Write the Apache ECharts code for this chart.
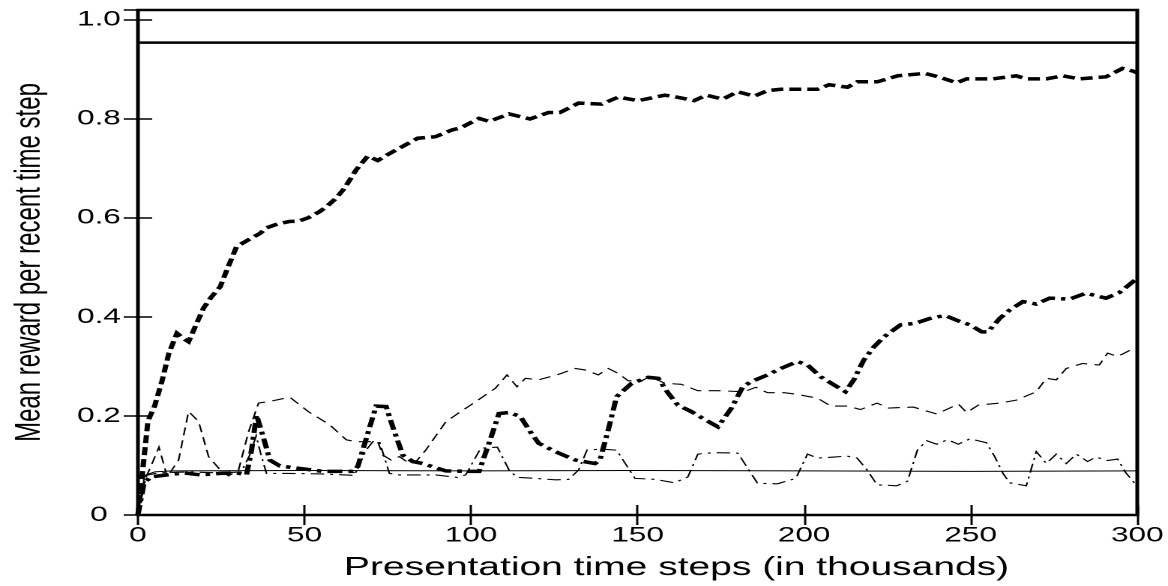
<!DOCTYPE html>
<html><head><meta charset="utf-8">
<script src="https://cdn.jsdelivr.net/npm/echarts@6/dist/echarts.min.js"></script>
<style>
html,body{margin:0;padding:0;background:#fff;overflow:hidden}
#wrap{width:1168px;height:586px;overflow:hidden}
#c{width:779px;height:586px;transform:scaleX(1.49936);transform-origin:0 0}
</style>
</head><body><div id="wrap"><div id="c"></div></div>
<script>
// ---- data (x in thousands of presentation time steps) ----
const xTickValues = [0, 50, 100, 150, 200, 250, 300];
const yTickValues = [0, 0.2, 0.4, 0.6, 0.8, 1.0];
const yTickLabels = ['0', '0.2', '0.4', '0.6', '0.8', '1.0'];

const refLevel = 0.954;   // horizontal reference line
const xRef = [0, 300];

// thick dashed
const xA = [0,3,5,7.2,9.3,11.7,14,15.2,17.5,19.7,22,24.7,27,29.6,33.2,36.7,38.6,42,45.6,48,51,54.6,57,59.5,62,65.5,69,72,75,78.5,81,84,89.3,94.4,96.9,102.4,105.4,111.4,117.7,123.3,126.7,132.3,139.2,144.2,150.2,158.2,161,167,170.6,175.6,180,185,189,193,198,204,207.5,213,216,222,228,236.3,240.8,245.8,248.8,256.7,263.7,266.7,272.7,277.7,282.6,290.6,295.6,299,300];
const yA = [0,0.19,0.22,0.27,0.327,0.367,0.355,0.35,0.385,0.418,0.44,0.461,0.5,0.542,0.556,0.569,0.58,0.588,0.593,0.593,0.6,0.613,0.625,0.64,0.66,0.697,0.725,0.716,0.728,0.741,0.75,0.761,0.764,0.778,0.782,0.801,0.795,0.81,0.8,0.813,0.813,0.832,0.83,0.844,0.837,0.848,0.845,0.837,0.848,0.84,0.855,0.846,0.857,0.86,0.86,0.86,0.869,0.864,0.875,0.875,0.887,0.892,0.884,0.873,0.881,0.881,0.887,0.881,0.881,0.887,0.881,0.885,0.902,0.896,0.893];

// thick dash-dot
const xC = [0,1.8,3.8,8.8,13.7,18.7,24.7,29.7,32.6,34.1,35.6,37.6,39.6,42.6,48.6,55.6,64.5,66,71.5,74.5,76.5,79.5,82.5,85.5,92.4,99.4,102.4,105.4,108.4,111.4,114.8,117.8,120.3,125.3,131.3,137.2,138.7,141.2,143.7,148.2,153.2,156.2,159.2,162.1,166.1,169.1,174.1,178.1,181.6,184,189,193,198,201,205,208.9,212.4,214.9,217.9,221,224,228.9,233.3,237.8,242.3,246.3,249.8,253.3,255.2,258.7,261.7,265.7,269.7,273.7,279.7,284.6,290.6,294.6,299.6,300];
const yC = [0,0.064,0.077,0.081,0.085,0.081,0.084,0.085,0.081,0.131,0.202,0.158,0.111,0.099,0.094,0.088,0.088,0.098,0.22,0.219,0.178,0.121,0.108,0.104,0.089,0.088,0.088,0.145,0.205,0.207,0.199,0.168,0.145,0.128,0.111,0.104,0.111,0.172,0.239,0.266,0.278,0.276,0.246,0.222,0.209,0.197,0.178,0.215,0.259,0.269,0.283,0.296,0.31,0.303,0.279,0.263,0.249,0.273,0.313,0.34,0.36,0.384,0.387,0.397,0.403,0.392,0.384,0.37,0.37,0.397,0.414,0.431,0.426,0.438,0.436,0.448,0.438,0.449,0.476,0.478];

// thin dashed
const xD = [0,2,4,6.3,8.8,12.2,15.2,18.2,21.2,24.7,27.2,30.2,33.2,36.2,40,45.6,51.1,57.6,62.5,65.5,72,73.5,76,78.5,81.5,83.5,86.4,92.4,95.4,101.4,107.3,110.8,113.8,116.3,120.3,125.8,131.3,134.2,138.2,141.2,144.2,147.2,151.2,153.7,158.2,163.1,168.1,174,182,185.5,189,194,197.5,204,208,213,216.9,221.9,225.4,232.8,239.8,246.3,248.8,252.3,258.7,263.7,269.7,272.7,275.7,278.7,283.6,288.6,291.1,294.1,297.6,300];
const yD = [0,0.07,0.1,0.137,0.077,0.111,0.209,0.189,0.118,0.091,0.079,0.091,0.168,0.226,0.23,0.238,0.209,0.182,0.152,0.148,0.148,0.121,0.111,0.118,0.104,0.108,0.131,0.188,0.202,0.229,0.256,0.283,0.259,0.276,0.273,0.283,0.296,0.293,0.283,0.296,0.286,0.271,0.271,0.28,0.266,0.264,0.251,0.251,0.249,0.258,0.247,0.247,0.244,0.236,0.22,0.22,0.213,0.226,0.216,0.218,0.204,0.224,0.207,0.222,0.226,0.232,0.249,0.276,0.273,0.296,0.306,0.303,0.327,0.32,0.332,0.325];

// thin dash-dot
const xE = [0,2.5,6,15,25,31,33.5,35.5,37,38.6,45,55,65,68.5,70.5,72.5,75.5,78.5,89.4,95.9,98.4,102.9,107.9,111.4,113.8,119.3,125.3,129.3,132.3,134.8,139.2,143.7,149.2,155.2,161.1,165.1,168.1,173.1,180.1,186,192,197.5,201,204,208.9,212.9,215.9,218.9,221.9,227.8,231,234,236.8,239.8,243,246.3,249.8,254.7,257.2,259.7,261.7,266.7,269.7,272.7,275.7,278.7,281.7,285.1,287.6,291.1,294.1,296.6,299.6,300];
const yE = [0,0.08,0.085,0.087,0.085,0.087,0.12,0.16,0.12,0.084,0.084,0.083,0.08,0.131,0.148,0.148,0.084,0.081,0.081,0.076,0.081,0.135,0.137,0.091,0.076,0.074,0.071,0.072,0.091,0.131,0.133,0.131,0.074,0.072,0.065,0.077,0.123,0.126,0.125,0.064,0.063,0.074,0.123,0.115,0.117,0.119,0.115,0.091,0.061,0.059,0.068,0.131,0.15,0.143,0.152,0.143,0.154,0.146,0.118,0.084,0.065,0.059,0.128,0.104,0.123,0.104,0.123,0.108,0.117,0.11,0.113,0.085,0.061,0.06];

// thin solid
const xF = [0,2,5,10,50,100,150,200,250,300];
const yF = [0,0.08,0.087,0.089,0.09,0.089,0.09,0.089,0.088,0.089];

const zip = (xs, ys) => xs.map((x, i) => [x, ys[i]]);

const FONT = 'Liberation Sans';
const chart = echarts.init(document.getElementById('c'), null, {renderer: 'canvas', devicePixelRatio: 2});

function lineSeries(name, xs, ys, width, dash) {
  return {
    name, type: 'line', data: zip(xs, ys), showSymbol: false, symbol: 'none',
    animation: false, silent: true, clip: true,
    lineStyle: {color: '#000', width, type: dash || 'solid', cap: 'butt', join: 'miter'}
  };
}

const baseX = {
  type: 'value', min: 0, max: 300, interval: 50,
  splitLine: {show: false}, axisLine: {show: false},
  axisTick: {show: true, inside: true, length: 10, lineStyle: {color: '#000', width: 1.5}}
};
const baseY = {
  type: 'value', min: 0, max: 1.02, interval: 0.2,
  splitLine: {show: false}, axisLine: {show: false},
  axisTick: {show: true, inside: true, length: 9.5, lineStyle: {color: '#000', width: 1.5}}
};

chart.setOption({
  backgroundColor: '#fff',
  animation: false,
  grid: {left: 89.4, right: 20, top: 10, bottom: 71, show: true, borderColor: '#000', borderWidth: 2.5, backgroundColor: 'transparent'},
  xAxis: [
    Object.assign({}, baseX, {
      position: 'bottom',
      name: 'Presentation time steps (in thousands)',
      nameLocation: 'middle', nameGap: 40,
      nameTextStyle: {fontFamily: FONT, fontSize: 26, color: '#000', padding: [0, 0, 0, 52]},
      axisLabel: {show: true, margin: 10, fontFamily: FONT, fontSize: 21, color: '#000',
        formatter: v => (xTickValues.indexOf(v) >= 0 ? String(v) : '')}
    }),
    Object.assign({}, baseX, {position: 'top', axisLabel: {show: false}})
  ],
  yAxis: [
    Object.assign({}, baseY, {
      position: 'left',
      name: 'Mean reward per recent time step',
      nameLocation: 'middle', nameGap: 60,
      nameTextStyle: {fontFamily: FONT, fontSize: 24, color: '#000'},
      axisLabel: {show: true, margin: 26, align: 'center', fontFamily: FONT, fontSize: 21, color: '#000',
        showMaxLabel: false,
        formatter: v => {
          const i = yTickValues.findIndex(t => Math.abs(t - v) < 1e-6);
          return i >= 0 ? yTickLabels[i] : '';
        }}
    }),
    Object.assign({}, baseY, {position: 'right', axisLabel: {show: false}})
  ],
  series: [
    lineSeries('reference', xRef, xRef.map(() => refLevel), 2.5),
    lineSeries('thick dashed', xA, yA, 3.5, [8, 4]),
    lineSeries('thick dash-dot', xC, yC, 3.5, [10, 4, 3, 4]),
    lineSeries('thin dashed', xD, yD, 1.1, [8, 5]),
    lineSeries('thin dash-dot', xE, yE, 1.1, [9, 4, 2, 4]),
    lineSeries('thin solid', xF, yF, 1)
  ]
});
</script>
</body></html>
